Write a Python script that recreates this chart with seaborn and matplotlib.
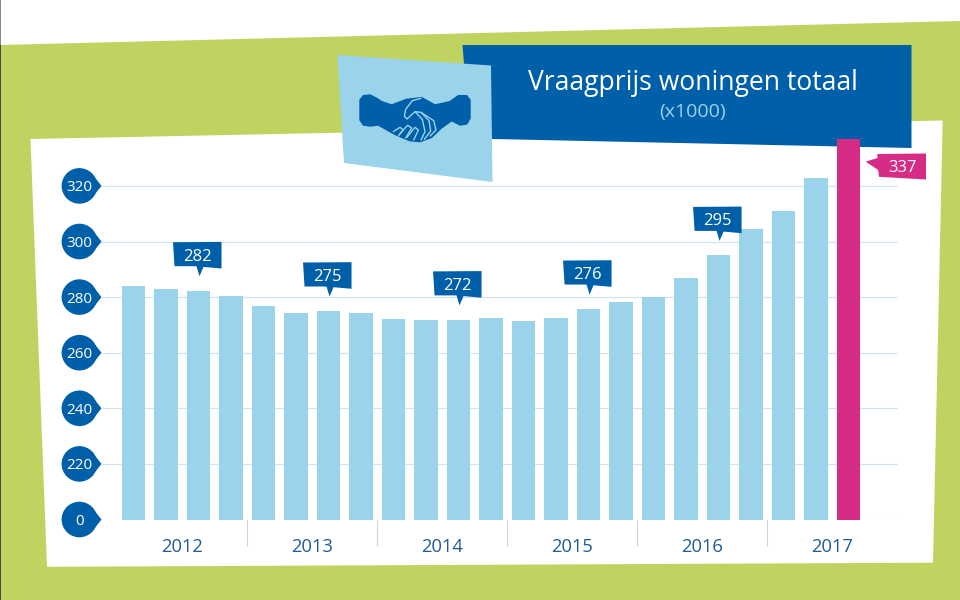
import matplotlib
matplotlib.use("Agg")
import matplotlib.pyplot as plt
import seaborn as sns
from matplotlib.patches import Polygon, Circle

# ---- data ----
years = ["2012", "2013", "2014", "2015", "2016", "2017"]
quarters = [f"{y} K{q}" for y in years for q in (1, 2, 3, 4)][:23]
values = [284.1, 282.9, 282.3, 280.5, 276.8, 274.4, 275.0, 274.2,
          272.0, 271.7, 271.8, 272.5, 271.5, 272.5, 275.7, 278.2,
          280.0, 286.7, 295.0, 304.5, 311.0, 323.0, 337.0]
axis_positions = [200, 220, 240, 260, 280, 300, 320]
axis_labels = ["0", "220", "240", "260", "280", "300", "320"]
callout_quarters = ["2012 K3", "2013 K3", "2014 K3", "2015 K3", "2016 K3"]
callout_labels = ["282", "275", "272", "276", "295"]
last_label = "337"
title = "Vraagprijs woningen totaal"
subtitle = "(x1000)"

# ---- colours ----
GREEN = "#BFD361"
BLUE = "#005FA9"
LIGHT = "#9AD3EA"
PINK = "#D62C85"
GRID = "#D3E4F0"
YEARCOL = "#1F5C97"

sns.set_theme(style="white")
plt.rcParams["font.family"] = ["Open Sans", "DejaVu Sans"]

W, H = 960, 600
fig = plt.figure(figsize=(W / 100, H / 100), dpi=100, facecolor="white")

def layer(z):
    a = fig.add_axes([0, 0, 1, 1], zorder=z)
    a.set_xlim(0, W)
    a.set_ylim(H, 0)
    a.axis("off")
    return a

back = layer(0)
front = layer(3)

# ---- backdrop ----
back.add_patch(Polygon([(0, 45), (960, 21), (960, 600), (0, 600)], fc=GREEN, ec="none"))
back.add_patch(Polygon([(0, 0), (1.2, 0), (1.2, 45), (0, 45)], fc="#8A8A8A", ec="none"))
back.add_patch(Polygon([(0, 45), (1.2, 45), (1.2, 600), (0, 600)], fc="#4A4A3A", ec="none"))
back.add_patch(Polygon([(30.5, 139), (942.7, 120.5), (933, 562.7), (47, 566.8)], fc="white", ec="none"))
back.add_patch(Polygon([(462.5, 45), (911.5, 45), (911.5, 148), (470, 138.5)], fc=BLUE, ec="none"))
back.add_patch(Polygon([(337.5, 55), (491, 65.5), (492.5, 182), (344, 163)], fc=LIGHT, ec="none"))

# ---- handshake icon ----
def ic(pts):
    return [(335 + x / 3, 50 + y / 3) for x, y in pts]

back.add_patch(Polygon(ic([(75, 150), (85, 137), (105, 135), (125, 145), (140, 155), (170, 165),
                           (215, 148), (260, 143), (300, 165), (345, 155), (370, 137), (395, 137),
                           (405, 150), (405, 205), (395, 222), (375, 225), (350, 212), (318, 235),
                           (290, 262), (255, 275), (225, 272), (190, 258), (165, 245), (130, 225),
                           (105, 228), (85, 225), (75, 210)]), fc=BLUE, ec=BLUE, lw=1, joinstyle="round"))
for line in ([(258, 145), (232, 152), (212, 178), (208, 198), (216, 207), (240, 185), (258, 187),
              (296, 212), (303, 240), (285, 258)],
             [(258, 187), (282, 212), (287, 243), (268, 268)],
             [(240, 185), (262, 208), (270, 245), (258, 270)],
             [(175, 245), (195, 232), (205, 240), (190, 258)],
             [(195, 250), (218, 226), (230, 234), (212, 264)],
             [(216, 262), (240, 232), (250, 240), (236, 270)]):
    xs, ys = zip(*ic(line))
    back.plot(xs, ys, color=LIGHT, lw=1.0, solid_joinstyle="round")

# ---- heading ----
back.text(693, 83, title, color="white", fontsize=19.1, ha="center", va="center")
back.text(693, 112, subtitle, color=LIGHT, fontsize=14, ha="center", va="center")

# ---- bars ----
ax = fig.add_axes([101 / W, (H - 519.5) / H, (898 - 101) / W, 389.2 / H], zorder=2)
colors = [LIGHT] * (len(quarters) - 1) + [PINK]
sns.barplot(x=quarters, y=values, hue=quarters, palette=colors, legend=False, dodge=False,
            width=23.5 / 32.5, saturation=1, linewidth=0, ax=ax, zorder=3)
ax.patch.set_alpha(0)
ax.set_xlim(-1, 23.52)
ax.set_ylim(200, 340)
sns.despine(ax=ax, left=True, top=True, right=True, bottom=True)
ax.set_axisbelow(True)
ax.grid(axis="y", color=GRID, lw=0.9)
ax.grid(axis="x", visible=False)
ax.set_yticks(axis_positions, axis_labels)
ax.tick_params(axis="y", length=0, pad=15.6, labelcolor="white", labelsize=11)
for t in ax.get_yticklabels():
    t.set_ha("center")
    t.set_va("center_baseline")

n = len(years)
ax.set_xticks([4 * i + 3.5 for i in range(n - 1)], [""] * (n - 1))
ax.tick_params(axis="x", which="major", bottom=True, length=19, width=0.8, color="#C3D7E6", direction="out")
ax.set_xticks([4 * i + 1.5 for i in range(n)], years, minor=True)
ax.tick_params(axis="x", which="minor", bottom=False, length=0, pad=13.5, labelcolor=YEARCOL, labelsize=13.2)

fig.canvas.draw()

def px(xv, yv):
    x, y = ax.transData.transform((xv, yv))
    return x, H - y

# ---- axis badges ----
for p in axis_positions:
    _, y = px(0, p)
    back.add_patch(Circle((79.4, y), 17.8, fc=BLUE, ec="none"))
    back.add_patch(Polygon([(92, y - 12), (101.5, y), (92, y + 12)], fc=BLUE, ec="none"))

# ---- callouts ----
for q, lab in zip(callout_quarters, callout_labels):
    cx, top = px(quarters.index(q), values[quarters.index(q)])
    tip = top - 14.5
    pts = [(-25.5, -34), (23, -34.3), (23, -7.7), (5, -9.3), (1, 0), (-2, -10), (-24, -10)]
    front.add_patch(Polygon([(cx + a, tip + b) for a, b in pts], fc=BLUE, ec="none"))
    front.text(cx - 1, tip - 21.5, lab, color="white", fontsize=12, ha="center", va="center_baseline")

bx, by = px(len(values) - 1, values[-1])
pts = [(877.3, 154), (926, 153.5), (926, 179.5), (879, 176.8), (878.2, 170), (865.7, 161.7), (877.5, 158)]
front.add_patch(Polygon(pts, fc=PINK, ec="none"))
front.text(902.5, 166.5, last_label, color="white", fontsize=12, ha="center", va="center_baseline")

fig.savefig("out.png", dpi=100, facecolor="white")
